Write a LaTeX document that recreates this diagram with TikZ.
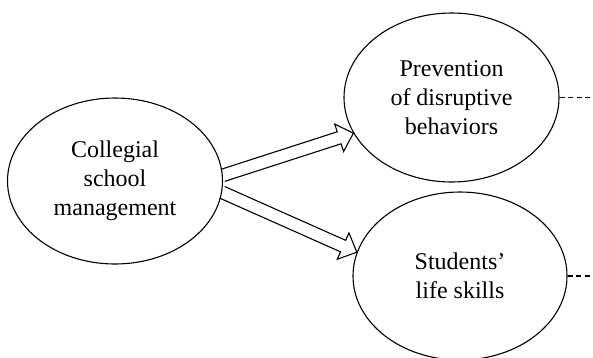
\documentclass[tikz,border=0pt]{standalone}
\usepackage{fontspec}
\setmainfont{Liberation Serif}
\usetikzlibrary{shapes.geometric,calc}
\tikzset{
  oval/.style={draw, ellipse, line width=1.1pt, inner sep=0pt, align=center,
    font=\fontsize{24}{29}\selectfont},
  arrowline/.style={line width=1.1pt, line join=miter},
  dashline/.style={line width=1.1pt, dash pattern=on 5pt off 3.5pt}
}
\newcommand{\blockarrow}[3]{%
  \coordinate (#3t) at (#1);
  \coordinate (#3h) at (#2);
  \coordinate (#3b) at ($(#3h)!15pt!(#3t)$);
  \draw[arrowline] ($(#3t)!6.3pt!90:(#3h)$) -- ($(#3b)!6.3pt!90:(#3h)$)
    -- ($(#3b)!14.4pt!90:(#3h)$) -- (#3h) -- ($(#3b)!14.4pt!-90:(#3h)$)
    -- ($(#3b)!6.3pt!-90:(#3h)$) -- ($(#3t)!6.3pt!-90:(#3h)$);
}
\begin{document}
\begin{tikzpicture}[x=1pt,y=-1pt]
\useasboundingbox (0,0) rectangle (593,357);
\node[oval, minimum width=215pt, minimum height=166pt] (C) at (115,181)
  {Collegial\\school\\management};
\node[oval, minimum width=215pt, minimum height=169pt] (P) at (451.5,97.5)
  {Prevention\\of disruptive\\behaviors};
\node[oval, minimum width=214pt, minimum height=168pt] (S) at (460,276)
  {Students'\\life skills};
\blockarrow{C.3}{P.200}{a}
\blockarrow{C.-6}{S.167}{b}
\coordinate (pe) at (593,97.5);
\coordinate (se) at (593,276);
\draw[dashline] (P.east) -- (pe);
\draw[dashline] (S.east) -- (se);
\end{tikzpicture}
\end{document}
